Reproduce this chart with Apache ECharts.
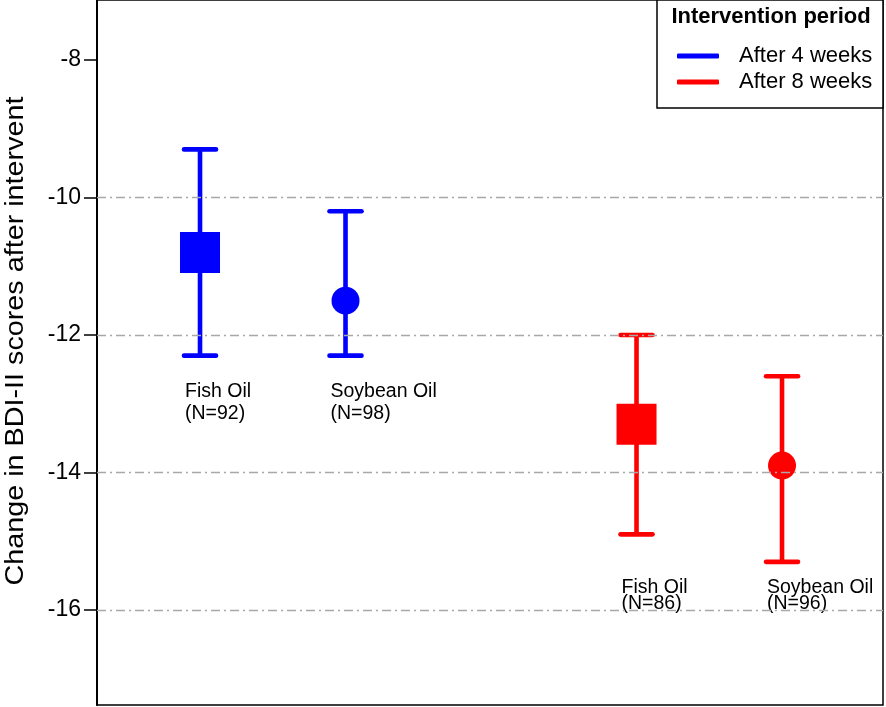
<!DOCTYPE html>
<html><head><meta charset="utf-8">
<script src="https://cdn.jsdelivr.net/npm/echarts@6/dist/echarts.min.js"></script>
<style>html,body{margin:0;padding:0;background:#fff}#c{width:886px;height:707px}</style>
</head><body><div id="c"></div>
<script>
const groups = ['Fish Oil', 'Soybean Oil'];
const periods = ['After 4 weeks', 'After 8 weeks'];
const xPos4 = [1, 2];
const xPos8 = [4, 5];
const n4 = [92, 98];
const n8 = [86, 96];
const mean4 = [-10.8, -11.5];
const low4 = [-12.3, -12.3];
const high4 = [-9.3, -10.2];
const mean8 = [-13.3, -13.9];
const low8 = [-14.9, -15.3];
const high8 = [-12.0, -12.6];
const yTicks = [-16, -14, -12, -10, -8];
const gridValues = [-16, -14, -12, -10];
const yName = 'Change in BDI-II scores after intervent';
const legendTitle = 'Intervention period';

const FONT = '"Liberation Sans", Arial, sans-serif';

function build(xs, means, lows, highs, ns) {
  return xs.map((x, i) => [x, means[i], lows[i], highs[i], i, ns[i]]);
}

function makeRender(labelAt, lineH) {
  return function (params, api) {
    const x = api.value(0), m = api.value(1), lo = api.value(2), hi = api.value(3);
    const g = api.value(4), n = api.value(5);
    const pM = api.coord([x, m]), pL = api.coord([x, lo]), pH = api.coord([x, hi]);
    const pT = api.coord([x, labelAt]);
    const color = api.visual('color');
    const lw = 4.6, cap = 16;
    const children = [
      { type: 'line', shape: { x1: pH[0], y1: pH[1], x2: pL[0], y2: pL[1] }, style: { stroke: color, lineWidth: lw } },
      { type: 'line', shape: { x1: pH[0] - cap, y1: pH[1], x2: pH[0] + cap, y2: pH[1] }, style: { stroke: color, lineWidth: lw, lineCap: 'round' } },
      { type: 'line', shape: { x1: pL[0] - cap, y1: pL[1], x2: pL[0] + cap, y2: pL[1] }, style: { stroke: color, lineWidth: lw, lineCap: 'round' } }
    ];
    if (g === 0) {
      children.push({ type: 'rect', shape: { x: pM[0] - 20, y: pM[1] - 20.5, width: 40, height: 41 }, style: { fill: color } });
    } else {
      children.push({ type: 'circle', shape: { cx: pM[0], cy: pM[1], r: 14 }, style: { fill: color } });
    }
    children.push({
      type: 'text', x: pT[0] - 15, y: pT[1],
      style: { text: groups[g] + '\n(N=' + n + ')', font: '19.5px ' + FONT, fill: '#000', align: 'left', verticalAlign: 'top', lineHeight: lineH }
    });
    return { type: 'group', children: children };
  };
}

const chart = echarts.init(document.getElementById('c'), null, { renderer: 'canvas' });
chart.setOption({
  animation: false,
  backgroundColor: '#fff',
  grid: { left: 97, right: 3, top: 0, bottom: 2, show: true, borderColor: '#000', borderWidth: 1.5 },
  xAxis: { type: 'value', min: 0.292, max: 5.694, show: false },
  yAxis: {
    type: 'value', min: -17.382, max: -7.127,
    axisLine: { show: true, lineStyle: { color: '#000', width: 2 } },
    axisTick: { show: true, customValues: yTicks, length: 13, lineStyle: { color: '#000', width: 1.5 } },
    axisLabel: { customValues: yTicks, fontSize: 23, color: '#000', margin: 16, fontFamily: FONT },
    splitLine: { show: false }
  },
  legend: {
    orient: 'vertical', left: 677, top: 43, itemWidth: 42, itemHeight: 5, icon: 'roundRect',
    itemGap: 0, padding: 0, z: 20,
    textStyle: { fontSize: 22, fontFamily: FONT, color: '#000', lineHeight: 26, padding: [0, 0, 0, 15] },
    data: periods
  },
  graphic: [
    { type: 'rect', z: 10, shape: { x: 657, y: 0, width: 226, height: 108 }, style: { fill: '#fff', stroke: '#000', lineWidth: 1.5 } },
    { type: 'text', z: 11, x: 771, y: 17, style: { text: legendTitle, font: 'bold 22px ' + FONT, fill: '#000', align: 'center', verticalAlign: 'middle' } },
    { type: 'text', x: 16, y: 341, rotation: Math.PI / 2, scaleX: 1.15, style: { text: yName, font: '25px ' + FONT, fill: '#000', align: 'center', verticalAlign: 'middle' } }
  ],
  series: [
    {
      name: periods[0], type: 'custom', itemStyle: { color: '#0000ff' },
      renderItem: makeRender(-12.66, 22),
      encode: { x: 0, y: [1, 2, 3] },
      data: build(xPos4, mean4, low4, high4, n4),
      markLine: {
        silent: true, symbol: 'none', label: { show: false },
        lineStyle: { color: '#a8a8a8', width: 1.3, type: [9, 4, 2, 4] },
        data: gridValues.map(v => ({ yAxis: v }))
      }
    },
    {
      name: periods[1], type: 'custom', itemStyle: { color: '#ff0000' },
      renderItem: makeRender(-15.56, 16),
      encode: { x: 0, y: [1, 2, 3] },
      data: build(xPos8, mean8, low8, high8, n8)
    }
  ]
});
</script></body></html>
